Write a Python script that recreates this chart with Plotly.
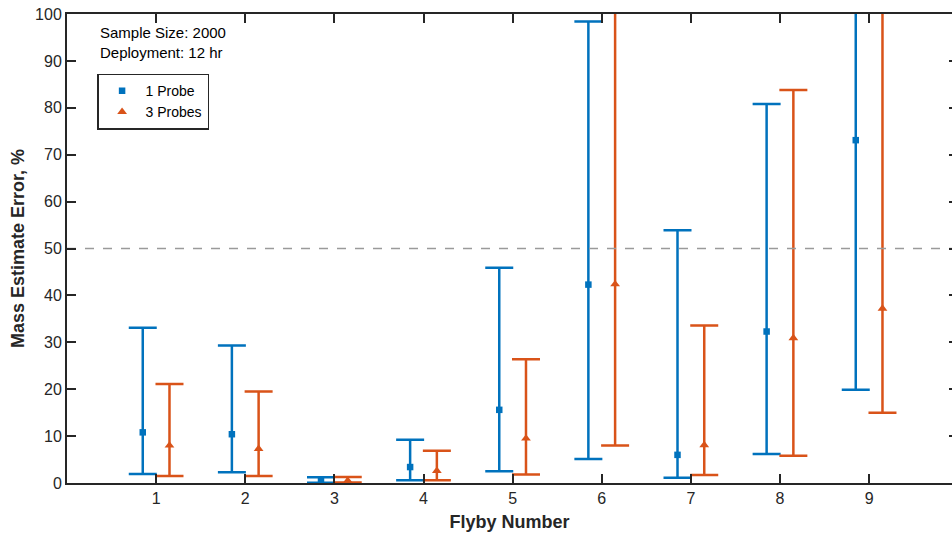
import plotly.graph_objects as go

flyby = [1, 2, 3, 4, 5, 6, 7, 8, 9]

# 1 Probe (blue)
p1_mid = [10.8, 10.4, 0.5, 3.4, 15.6, 42.3, 6.0, 32.3, 73.1]
p1_low = [1.9, 2.3, 0.05, 0.6, 2.5, 5.1, 1.1, 6.2, 19.9]
p1_high = [33.1, 29.3, 1.2, 9.2, 45.9, 98.4, 53.9, 80.8, 120.0]

# 3 Probes (orange)
p3_mid = [8.0, 7.3, 0.5, 2.6, 9.5, 42.4, 8.1, 30.9, 37.2]
p3_low = [1.5, 1.5, 0.1, 0.6, 1.8, 8.0, 1.7, 5.8, 15.0]
p3_high = [21.1, 19.5, 1.3, 6.9, 26.4, 120.0, 33.6, 83.8, 120.0]

reference_level = 50
offset = 0.15

blue = "#0072BD"
orange = "#D95319"
axis_col = "#262626"
font_family = "Liberation Sans, Arial, sans-serif"

fig = go.Figure()

fig.add_trace(go.Scatter(
    x=[0, 10], y=[reference_level, reference_level], mode="lines",
    line=dict(color="#9a9a9a", width=1.5, dash="dash"),
    showlegend=False, hoverinfo="skip", yaxis="y2"))

fig.add_trace(go.Scatter(
    x=[f - offset for f in flyby], y=p1_mid, mode="markers", name="1 Probe",
    marker=dict(symbol="square", size=6.5, color=blue),
    error_y=dict(type="data", symmetric=False,
                 array=[h - m for h, m in zip(p1_high, p1_mid)],
                 arrayminus=[m - l for m, l in zip(p1_mid, p1_low)],
                 color=blue, thickness=2.5, width=14)))

fig.add_trace(go.Scatter(
    x=[f + offset for f in flyby], y=p3_mid, mode="markers", name="3 Probes",
    marker=dict(symbol="triangle-up", size=8.5, color=orange),
    error_y=dict(type="data", symmetric=False,
                 array=[h - m for h, m in zip(p3_high, p3_mid)],
                 arrayminus=[m - l for m, l in zip(p3_mid, p3_low)],
                 color=orange, thickness=2.5, width=14)))

fig.add_annotation(
    xref="paper", yref="paper", x=0.035, y=0.983, xanchor="left", yanchor="top",
    text="Sample Size: 2000<br>Deployment: 12 hr", showarrow=False, align="left",
    font=dict(family=font_family, size=15, color="#000000"))

fig.update_layout(
    width=952, height=541,
    margin=dict(l=67, r=0, t=14, b=58),
    paper_bgcolor="white", plot_bgcolor="white",
    font=dict(family=font_family, size=16, color=axis_col),
    xaxis=dict(range=[0, 9.93], tickvals=flyby, ticks="inside", ticklen=9,
               tickwidth=1.5, tickcolor=axis_col, showline=True, linecolor=axis_col,
               linewidth=2, mirror="ticks", showgrid=False, zeroline=False,
               title=dict(text="<b>Flyby Number</b>", font=dict(size=18, color=axis_col),
                          standoff=9),
               tickfont=dict(size=16, color=axis_col)),
    yaxis=dict(range=[0, 100], tickvals=list(range(0, 101, 10)), ticks="inside",
               ticklen=9, tickwidth=1.5, tickcolor=axis_col, showline=True,
               linecolor=axis_col, linewidth=2, showgrid=False, zeroline=False,
               title=dict(text="<b>Mass Estimate Error, %</b>",
                          font=dict(size=18, color=axis_col), standoff=6),
               tickfont=dict(size=16, color=axis_col)),
    yaxis2=dict(range=[0, 100], overlaying="y", side="right",
                tickvals=list(range(0, 101, 10)), ticks="inside", ticklen=3,
                tickwidth=1.5, tickcolor=axis_col, showline=False,
                showticklabels=False, showgrid=False, zeroline=False),
    legend=dict(x=0.034, y=0.873, xanchor="left", yanchor="top",
                bgcolor="white", bordercolor="#262626", borderwidth=1.5,
                font=dict(size=14, color="#000000"), itemwidth=37,
                entrywidth=125, tracegroupgap=0),
    showlegend=True,
)

fig.write_html("out.html")
